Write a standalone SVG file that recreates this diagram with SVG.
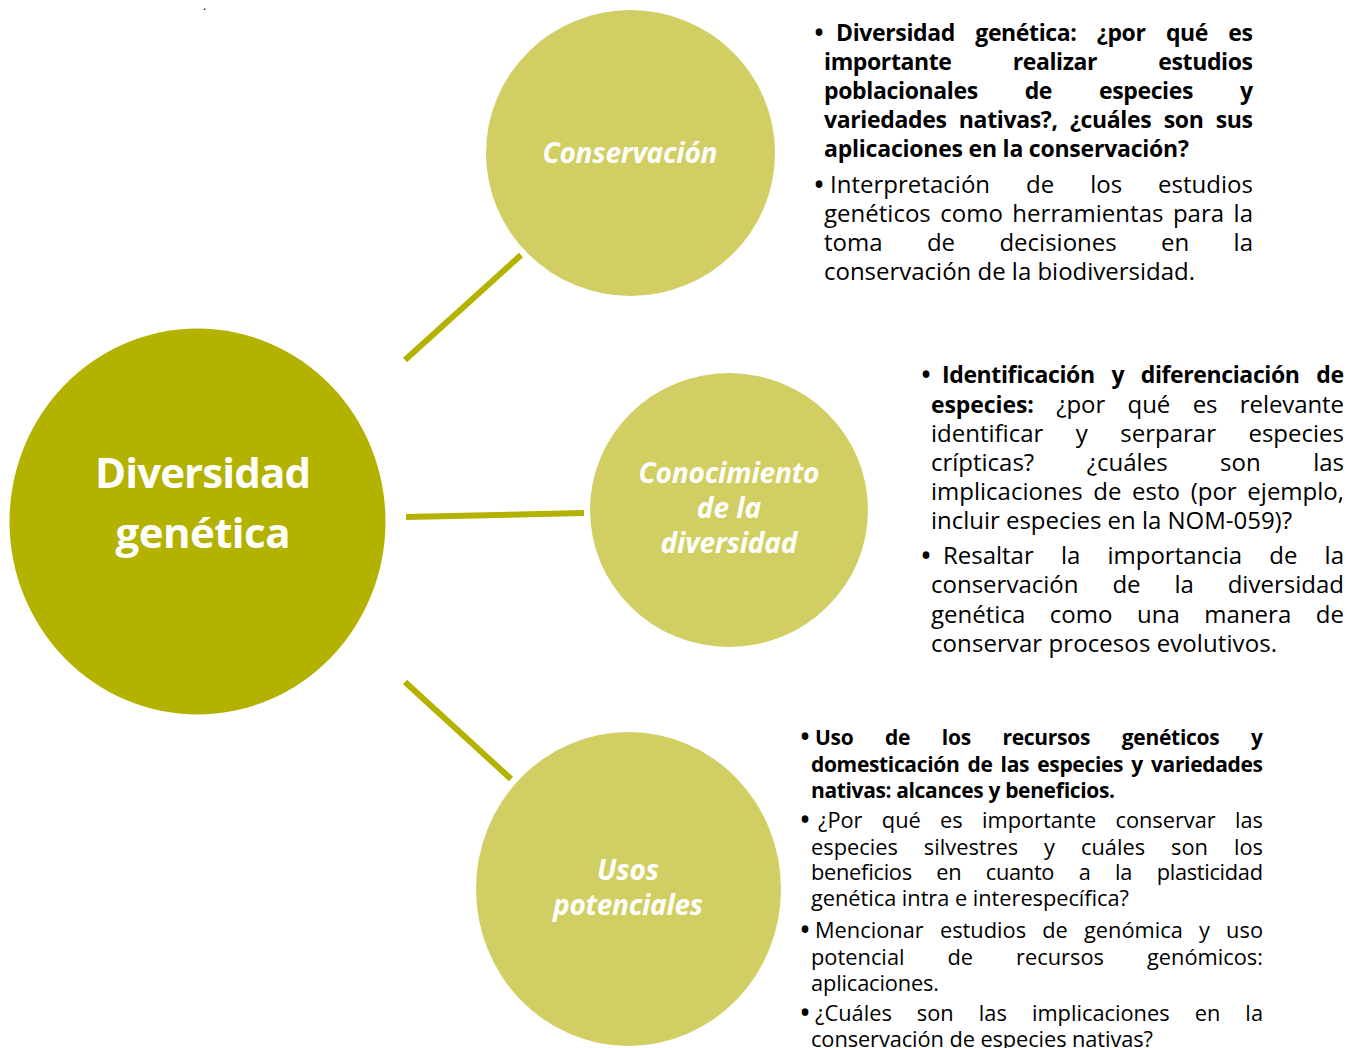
<svg xmlns="http://www.w3.org/2000/svg" width="1349" height="1048" viewBox="0 0 1349 1048">
<style>
.t{font-family:"Open Sans","Noto Sans",sans-serif;fill:#000}
.a{font-size:24px}
.ab{font-size:23px;font-weight:bold}
.c{font-size:21.8px}
.cb{font-size:21px;font-weight:bold}
.bu{font-size:32px}
.lab{font-family:"Open Sans","Noto Sans",sans-serif;fill:#fff;font-weight:bold;font-style:italic;font-size:28px;text-anchor:middle}
.main{font-family:"Open Sans","Noto Sans",sans-serif;fill:#fff;font-weight:bold;font-size:42px;text-anchor:middle}
.big{fill:#b4b200}
.sm{fill:#d1cf63}
.ln{stroke:#b4b200;stroke-width:6;fill:none}
</style>
<rect width="1349" height="1048" fill="#fff"/>
<text x="203" y="10" class="t" font-size="12">.</text>
<g id="connectors">
<line class="ln" x1="405" y1="360" x2="521" y2="255"/>
<line class="ln" x1="406" y1="517" x2="584" y2="513"/>
<line class="ln" x1="405" y1="682" x2="511" y2="779"/>
</g>
<g id="node-main">
<ellipse class="big" cx="197.5" cy="521.5" rx="188" ry="193"/>
<text class="main" x="203" y="488" textLength="216">Diversidad</text>
<text class="main" x="203" y="548" textLength="175">genética</text>
</g>
<g id="node-conservacion">
<ellipse class="sm" cx="630.5" cy="153" rx="144.5" ry="143"/>
<text class="lab" x="630" y="163" textLength="175">Conservación</text>
</g>
<g id="node-conocimiento">
<ellipse class="sm" cx="729" cy="510" rx="139" ry="137"/>
<text class="lab" x="729" y="483" textLength="181">Conocimiento</text>
<text class="lab" x="729" y="518">de la</text>
<text class="lab" x="729" y="553" textLength="137">diversidad</text>
</g>
<g id="node-usos">
<ellipse class="sm" cx="628.5" cy="889" rx="152.5" ry="157"/>
<text class="lab" x="628" y="880">Usos</text>
<text class="lab" x="628" y="915" textLength="150">potenciales</text>
</g>
<g id="text-conservacion" class="t">
<text x="813" y="44" class="bu">•</text>
<text x="836" y="41" class="ab" textLength="417" word-spacing="14.7">Diversidad genética: ¿por qué es</text>
<text x="824" y="70" class="ab" textLength="429" word-spacing="55.6">importante realizar estudios</text>
<text x="824" y="99" class="ab" textLength="429" word-spacing="41.2">poblacionales de especies y</text>
<text x="824" y="128" class="ab" textLength="429" word-spacing="6.7">variedades nativas?, ¿cuáles son sus</text>
<text x="824" y="157" class="ab" textLength="365">aplicaciones en la conservación?</text>
<text x="813" y="196" class="bu">•</text>
<text x="830" y="193" class="a" textLength="423" word-spacing="29.7">Interpretación de los estudios</text>
<text x="824" y="222" class="a" textLength="429" word-spacing="3.2">genéticos como herramientas para la</text>
<text x="824" y="251" class="a" textLength="429" word-spacing="38.1">toma de decisiones en la</text>
<text x="824" y="280" class="a" textLength="371">conservación de la biodiversidad.</text>
</g>
<g id="text-conocimiento" class="t">
<text x="920" y="386" class="bu">•</text>
<text x="942" y="383" class="ab" textLength="402" word-spacing="11.1">Identificación y diferenciación de</text>
<text x="931" y="413" class="a" textLength="413" word-spacing="16.3"><tspan class="ab">especies:</tspan> ¿por qué es relevante</text>
<text x="931" y="442" class="a" textLength="413" word-spacing="26.2">identificar y serparar especies</text>
<text x="931" y="471" class="a" textLength="413" word-spacing="46.3">crípticas? ¿cuáles son las</text>
<text x="931" y="500" class="a" textLength="413" word-spacing="4.4">implicaciones de esto (por ejemplo,</text>
<text x="931" y="529" class="a" textLength="361">incluir especies en la NOM-059)?</text>
<text x="920" y="567" class="bu">•</text>
<text x="943" y="564" class="a" textLength="401" word-spacing="21">Resaltar la importancia de la</text>
<text x="931" y="593" class="a" textLength="413" word-spacing="27.6">conservación de la diversidad</text>
<text x="931" y="623" class="a" textLength="413" word-spacing="18.3">genética como una manera de</text>
<text x="931" y="652" class="a" textLength="346">conservar procesos evolutivos.</text>
</g>
<g id="text-usos" class="t">
<text x="799" y="748" class="bu">•</text>
<text x="815" y="745" class="cb" textLength="448" word-spacing="26.5">Uso de los recursos genéticos y</text>
<text x="811" y="772" class="cb" textLength="452" word-spacing="3">domesticación de las especies y variedades</text>
<text x="811" y="798" class="cb" textLength="304">nativas: alcances y beneficios.</text>
<text x="799" y="831" class="bu">•</text>
<text x="818" y="828" class="c" textLength="445" word-spacing="13.7">¿Por qué es importante conservar las</text>
<text x="811" y="855" class="c" textLength="452" word-spacing="20.3">especies silvestres y cuáles son los</text>
<text x="811" y="880" class="c" textLength="452" word-spacing="19.2">beneficios en cuanto a la plasticidad</text>
<text x="811" y="906" class="c" textLength="318">genética intra e interespecífica?</text>
<text x="799" y="941" class="bu">•</text>
<text x="815" y="938" class="c" textLength="448" word-spacing="10.5">Mencionar estudios de genómica y uso</text>
<text x="811" y="965" class="c" textLength="452" word-spacing="37.3">potencial de recursos genómicos:</text>
<text x="811" y="991" class="c" textLength="128">aplicaciones.</text>
<text x="799" y="1024" class="bu">•</text>
<text x="815" y="1021" class="c" textLength="448" word-spacing="19.4">¿Cuáles son las implicaciones en la</text>
<text x="811" y="1047" class="c" textLength="342">conservación de especies nativas?</text>
</g>
</svg>
